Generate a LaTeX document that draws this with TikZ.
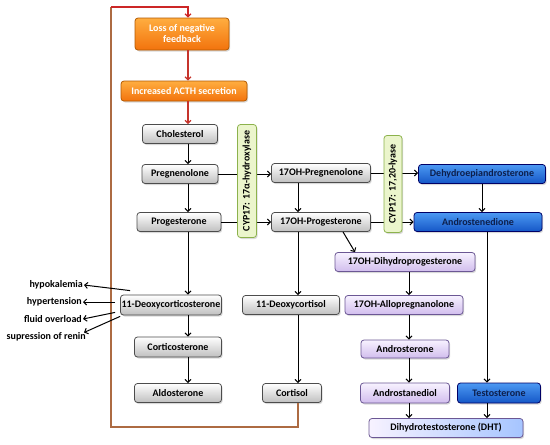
\documentclass[tikz,border=0pt]{standalone}
\usepackage{fontspec}
\setmainfont{Carlito}
\usetikzlibrary{arrows.meta,calc,positioning,shadows}
\definecolor{fbred}{rgb}{0.80,0.15,0.15}
\definecolor{fbbrown}{rgb}{0.68,0.42,0.26}
\definecolor{orangetop}{rgb}{1,0.68,0.25}
\definecolor{orangebot}{rgb}{0.95,0.45,0.05}
\definecolor{bluetop}{rgb}{0.30,0.60,0.95}
\definecolor{bluebot}{rgb}{0.08,0.34,0.78}
\definecolor{bluetext}{rgb}{0.05,0.12,0.30}
\definecolor{purptop}{rgb}{0.97,0.95,1}
\definecolor{purpbot}{rgb}{0.82,0.74,0.93}
\definecolor{purpline}{rgb}{0.42,0.34,0.58}
\definecolor{enzfill}{rgb}{0.92,0.96,0.80}
\definecolor{enzline}{rgb}{0.55,0.70,0.30}
\tikzset{
  >={Straight Barb[length=3pt,width=6pt]},
  line cap=round,
  line join=round,
  arrow/.style={->, line width=1pt},
  sidearrow/.style={->, line width=1pt},
  fbline/.style={line width=1.2pt},
  base/.style={rounded corners=3pt, inner sep=1pt, align=center,
    font=\bfseries\fontsize{10}{11}\selectfont, line width=0.8pt,
    drop shadow={opacity=0.3, shadow xshift=1.2pt, shadow yshift=-1.5pt}},
  graybox/.style={base, draw=black!70, top color=white, bottom color=black!25},
  orangebox/.style={base, draw=orange!70!black, top color=orangetop, bottom color=orangebot, text=white},
  bluebox/.style={base, draw=blue!40!black, top color=bluetop, bottom color=bluebot, text=bluetext},
  purplebox/.style={base, draw=purpline, top color=purptop, bottom color=purpbot},
  dhtbox/.style={base, draw=purpline, left color=purptop, right color=cyan!35!blue!35},
  enzbox/.style={base, draw=enzline, fill=enzfill, rotate=90},
  effect/.style={anchor=east, inner sep=1pt, font=\bfseries\fontsize{10}{11}\selectfont}
}
\begin{document}
\begin{tikzpicture}[x=1pt, y=-1pt]
  \useasboundingbox (0,0) rectangle (550,445);

  % columns for the vertical arrows
  \coordinate (colA) at (188,0);
  \coordinate (colB) at (298,0);
  \coordinate (colC) at (409,0);
  \coordinate (colD) at (487,0);

  % feedback loop
  \node[orangebox, minimum width=94pt, minimum height=32pt] (loss) at (182,34) {Loss of negative\\feedback};
  \node[orangebox, minimum width=126pt, minimum height=20pt] (acth) at (184,91) {Increased ACTH secretion};

  % steroid boxes
  \node[graybox, minimum width=75pt, minimum height=19pt] (chol) at (180,134) {Cholesterol};
  \node[graybox, minimum width=76pt, minimum height=19pt] (preg) at (180,174) {Pregnenolone};
  \node[graybox, minimum width=84pt, minimum height=19pt] (prog) at (179,222) {Progesterone};
  \node[graybox, minimum width=99pt, minimum height=19pt] (ohpreg) at (321,173) {17OH-Pregnenolone};
  \node[graybox, minimum width=99pt, minimum height=19pt] (ohprog) at (321,222) {17OH-Progesterone};
  \node[bluebox, minimum width=127pt, minimum height=19pt] (dhea) at (482,174) {Dehydroepiandrosterone};
  \node[bluebox, minimum width=128pt, minimum height=19pt] (andro) at (478,222) {Androstenedione};
  \node[purplebox, minimum width=140pt, minimum height=19pt] (dihydro) at (405,262) {17OH-Dihydroprogesterone};
  \node[graybox, minimum width=101pt, minimum height=20pt] (doc) at (171,305) {11-Deoxycorticosterone};
  \node[graybox, minimum width=97pt, minimum height=19pt] (dcort) at (291,305) {11-Deoxycortisol};
  \node[purplebox, minimum width=118pt, minimum height=19pt] (allo) at (404,305) {17OH-Allopregnanolone};
  \node[graybox, minimum width=87pt, minimum height=20pt] (cortico) at (178,347) {Corticosterone};
  \node[purplebox, minimum width=88pt, minimum height=18pt] (andros) at (405,349) {Androsterone};
  \node[graybox, minimum width=87pt, minimum height=19pt] (aldo) at (178,393) {Aldosterone};
  \node[graybox, minimum width=59pt, minimum height=19pt] (cort) at (292,393) {Cortisol};
  \node[purplebox, minimum width=89pt, minimum height=20pt] (andiol) at (405,393) {Androstanediol};
  \node[bluebox, minimum width=83pt, minimum height=20pt] (testo) at (499,393) {Testosterone};
  \node[dhtbox, minimum width=154pt, minimum height=19pt] (dht) at (446,428) {Dihydrotestosterone (DHT)};

  % effects
  \node[effect] (hypo) at (84,285) {hypokalemia};
  \node[effect] (hyper) at (83,302) {hypertension};
  \node[effect] (fluid) at (83,319) {fluid overload};
  \node[effect] (renin) at (87,337) {supression of renin};

  % feedback connector
  \coordinate (fbA) at (111,427);
  \coordinate (fbB) at (111,7);
  \draw[fbline, draw=fbbrown] (cort.south -| colB) |- (fbA) -- (fbB);
  \draw[fbline, draw=fbred, ->] (fbB) -| (loss.north -| colA);
  \draw[fbline, draw=fbred!80!fbbrown, ->] (loss.south -| colA) -- (acth.north -| colA);
  \draw[fbline, draw=fbred!80!fbbrown, ->] (acth.south -| colA) -- (chol.north -| colA);

  % vertical arrows
  \draw[arrow] (chol.south -| colA) -- (preg.north -| colA);
  \draw[arrow] (preg.south -| colA) -- (prog.north -| colA);
  \draw[arrow] (prog.south -| colA) -- (doc.north -| colA);
  \draw[arrow] (doc.south -| colA) -- (cortico.north -| colA);
  \draw[arrow] (cortico.south -| colA) -- (aldo.north -| colA);
  \draw[arrow] (ohpreg.south -| colB) -- (ohprog.north -| colB);
  \draw[arrow] (ohprog.south -| colB) -- (dcort.north -| colB);
  \draw[arrow] (dcort.south -| colB) -- (cort.north -| colB);
  \draw[arrow] (dihydro.south -| colC) -- (allo.north -| colC);
  \draw[arrow] (allo.south -| colC) -- (andros.north -| colC);
  \draw[arrow] (andros.south -| colC) -- (andiol.north -| colC);
  \draw[arrow] (andiol.south -| colC) -- (dht.north -| colC);
  \draw[arrow] (dhea) -- (dhea |- andro.north);
  \draw[arrow] (andro.south -| colD) -- (testo.north -| colD);
  \draw[arrow] (testo.south -| colD) -- (dht.north -| colD);
  \draw[arrow] ([xshift=22pt]ohprog.south) -- ([xshift=-50pt]dihydro.north);

  % horizontal arrows (under the enzyme boxes)
  \draw[arrow] (preg.east) -- (preg.east -| ohpreg.west);
  \draw[arrow] (prog.east) -- (prog.east -| ohprog.west);
  \draw[arrow] (ohpreg.east) -- (ohpreg.east -| dhea.west);
  \draw[arrow] (ohprog.east) -- (ohprog.east -| andro.west);

  % enzymes
  \node[enzbox, minimum width=113pt, minimum height=19pt] (hydrox) at (247,181) {CYP17: 17α-hydroxylase};
  \node[enzbox, minimum width=97pt, minimum height=18pt] (lyase) at (393,184) {CYP17: 17,20-lyase};

  % effect arrows
  \draw[sidearrow] ([shift={(10pt,4pt)}]doc.north west) -- (hypo.east);
  \draw[sidearrow] ([shift={(-5pt,3pt)}]doc.west) -- (hyper.east);
  \draw[sidearrow] ([shift={(-5pt,3pt)}]doc.south west) -- (fluid.east);
  \draw[sidearrow] ([shift={(0pt,-1pt)}]doc.south west) -- ([shift={(-3pt,-1pt)}]renin.north east);
\end{tikzpicture}
\end{document}
